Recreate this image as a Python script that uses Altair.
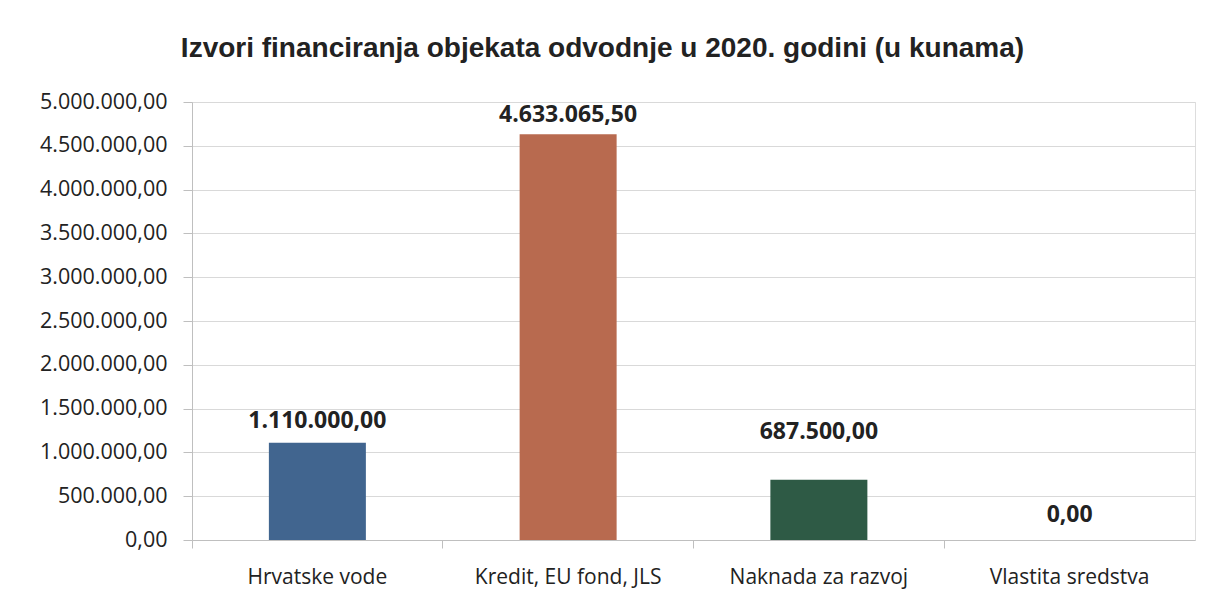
import altair as alt
import pandas as pd

categories = ["Hrvatske vode", "Kredit, EU fond, JLS", "Naknada za razvoj", "Vlastita sredstva"]
values = [1110000.00, 4633065.50, 687500.00, 0.00]
value_labels = ["1.110.000,00", "4.633.065,50", "687.500,00", "0,00"]
label_positions = [1360000, 4850000, 1235000, 285000]
colors = ["#41658f", "#b86a4f", "#2e5a45", "#7a7a7a"]
y_ticks = [0, 500000, 1000000, 1500000, 2000000, 2500000, 3000000, 3500000, 4000000, 4500000, 5000000]

df = pd.DataFrame({
    "cat": categories,
    "val": values,
    "lbl": value_labels,
    "lpos": label_positions,
    "col": colors,
})

label_expr = ("replace(replace(replace(format(datum.value, ',.2f'), /,/g, '#'), /\\./g, ','), /#/g, '.')")

x_scale = alt.Scale(paddingInner=0, paddingOuter=0)

bars = alt.Chart(df).mark_bar(size=97).encode(
    x=alt.X("cat:N", sort=categories, title=None, scale=x_scale,
            axis=alt.Axis(labelAngle=0, labelFont="Open Sans", labelFontSize=21,
                          labelColor="#222222", labelPadding=26, ticks=False,
                          labelLimit=400, orient="bottom",
                          domainColor="#bfbfbf", grid=False)),
    y=alt.Y("val:Q", title=None,
            scale=alt.Scale(domain=[0, 5000000]),
            axis=alt.Axis(values=y_ticks, labelExpr=label_expr, labelFont="Open Sans",
                          labelFontSize=21.5, labelColor="#222222", labelPadding=16,
                          labelLimit=400,
                          tickSize=9, tickColor="#bfbfbf", domainColor="#bfbfbf",
                          gridColor="#d9d9d9")),
    color=alt.Color("col:N", scale=None, legend=None),
)

labels = alt.Chart(df).mark_text(font="Open Sans", fontSize=23, fontWeight="bold",
                                 color="#222222").encode(
    x=alt.X("cat:N", sort=categories, title=None, scale=x_scale,
            axis=alt.Axis(orient="bottom", labels=False, domain=False, grid=False,
                          ticks=True, bandPosition=0, tickSize=8,
                          tickColor="#bfbfbf")),
    y=alt.Y("lpos:Q"),
    text="lbl:N",
)

chart = alt.layer(bars, labels).resolve_axis(x="independent").properties(
    width=1003,
    height=438,
    title=alt.TitleParams("Izvori financiranja objekata odvodnje u 2020. godini (u kunama)",
                          font="Liberation Sans", fontSize=28, fontWeight="bold",
                          color="#222222", dx=-91, offset=28),
    autosize=alt.AutoSizeParams(type="none"),
    padding={"left": 184, "top": 94, "right": 10, "bottom": 50},
).configure_view(stroke=None).configure(background="white")

chart.save("out.html", embed_options={"renderer": "svg", "actions": False})
